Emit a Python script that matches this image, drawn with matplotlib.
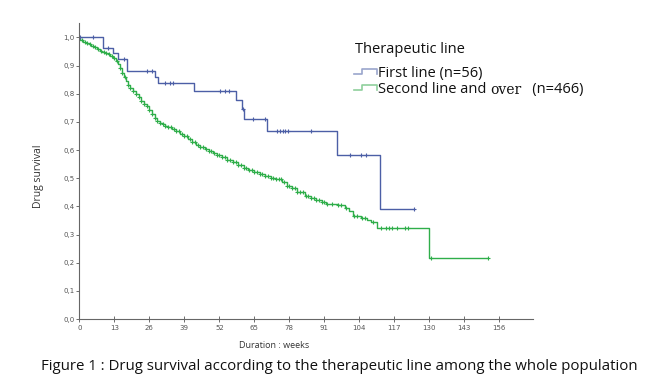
import numpy as np
import matplotlib
matplotlib.use("Agg")
import matplotlib.pyplot as plt
from matplotlib.lines import Line2D

# First line (n=56): step times (weeks) and survival after each step
first_t = [0, 8.7, 12.4, 14.5, 17.6, 28.1, 29.4, 42.6, 58.1, 60.3, 61.1, 69.6, 95.8, 111.7]
first_s = [1.0, 0.964, 0.946, 0.925, 0.882, 0.861, 0.838, 0.811, 0.779, 0.745, 0.710, 0.669, 0.583, 0.391]
first_end = 124.4
first_cens = [0.3, 5.2, 10.5, 16.7, 25.0, 26.9, 31.8, 33.7, 34.9, 52.3, 54.1, 55.4, 60.6,
              64.6, 69.0, 73.3, 74.5, 75.5, 76.5, 77.6, 86.1, 100.6, 104.6, 106.4, 124.4]

# Second line and over (n=466)
second_t = [0, 0.3, 1.5, 2.5, 3.5, 4.5, 5.5, 6.5, 7.5, 8.5, 9.5, 10.5, 11.5, 12.5, 13.5,
            14.2, 15.0, 15.8, 16.5, 17.3, 18.0, 19.0, 20.0, 21.0, 22.0, 23.0, 24.0, 25.0,
            26.0, 27.0, 28.0, 29.0, 30.0, 31.0, 32.0, 33.0, 34.5, 36.0, 37.5, 39.0, 40.5,
            42.0, 43.5, 45.0, 46.5, 48.0, 49.5, 51.0, 53.0, 55.0, 57.0, 59.0, 61.0, 62.8,
            65.0, 67.0, 69.0, 71.0, 73.0, 75.2, 77.0, 79.0, 81.0, 83.8, 86.0, 88.0, 90.0,
            91.5, 96.0, 98.5, 100.0, 101.5, 104.5, 107.0, 108.5, 110.5, 129.7]
second_s = [1.0, 0.990, 0.985, 0.980, 0.975, 0.970, 0.965, 0.958, 0.953, 0.950, 0.946,
            0.942, 0.935, 0.927, 0.915, 0.905, 0.890, 0.872, 0.858, 0.845, 0.832, 0.820,
            0.810, 0.798, 0.787, 0.776, 0.765, 0.755, 0.742, 0.728, 0.714, 0.703, 0.697,
            0.692, 0.687, 0.682, 0.676, 0.667, 0.658, 0.649, 0.638, 0.628, 0.619, 0.611,
            0.604, 0.597, 0.590, 0.583, 0.575, 0.566, 0.557, 0.548, 0.538, 0.530, 0.522,
            0.514, 0.508, 0.502, 0.496, 0.488, 0.474, 0.465, 0.452, 0.437, 0.430, 0.423,
            0.416, 0.410, 0.405, 0.393, 0.382, 0.365, 0.360, 0.350, 0.343, 0.322, 0.216]
second_end = 151.9
second_cens = [1, 2, 3, 4, 5, 6, 7, 8, 9, 10, 11, 12, 13, 14, 15, 16, 17, 18, 19, 20, 21,
               22, 23, 24, 25, 26, 27, 28, 29, 30, 31, 32, 33, 34, 35, 36, 37, 38, 39, 40,
               41, 42, 43, 44, 45, 46, 47, 48, 49, 50, 51, 52, 53, 54, 55, 56, 57, 58, 59,
               60, 61, 62, 63, 64, 65, 66, 67, 68, 69, 70, 71, 72, 73, 74, 75, 76, 77, 78,
               79, 80, 81, 82, 83, 84, 85, 86, 87, 88, 89, 90, 91, 92, 94, 96, 97, 99, 102,
               103, 105, 106, 109, 112, 114, 115, 116, 118, 121, 122, 130.5, 151.9]

x_ticks = [0, 13, 26, 39, 52, 65, 78, 91, 104, 117, 130, 143, 156]
y_ticks = [0.0, 0.1, 0.2, 0.3, 0.4, 0.5, 0.6, 0.7, 0.8, 0.9, 1.0]

BLUE = "#4c5fa6"
GREEN = "#2fae4a"

fig = plt.figure(figsize=(6.47, 3.83), dpi=100)
ax = fig.add_axes([0.1226, 0.167, 0.7013, 0.772])


def draw_km(t, s, end, cens, color):
    xs = list(t) + [end]
    ys = list(s) + [s[-1]]
    ax.step(xs, ys, where="post", color=color, linewidth=1.0)
    cs = [s[np.searchsorted(t, c, side="right") - 1] for c in cens]
    ax.plot(cens, cs, linestyle="none", marker="+", markersize=3.2,
            markeredgewidth=0.8, color=color)


draw_km(second_t, second_s, second_end, second_cens, GREEN)
draw_km(first_t, first_s, first_end, first_cens, BLUE)

ax.set_xlim(0, 168.5)
ax.set_ylim(0, 1.05)
ax.set_xticks(x_ticks)
ax.set_yticks(y_ticks)
ax.set_yticklabels([f"{v:.1f}".replace(".", ",") for v in y_ticks])
for sp in ["top", "right"]:
    ax.spines[sp].set_visible(False)
for sp in ["left", "bottom"]:
    ax.spines[sp].set_color("#666666")
    ax.spines[sp].set_linewidth(0.8)
ax.tick_params(axis="x", direction="inout", length=4, width=0.6, labelsize=5,
               colors="#555555", pad=2)
ax.tick_params(axis="y", direction="out", length=2.5, width=0.6, labelsize=5,
               colors="#555555", pad=1)

ax.set_xlabel("Duration : weeks", fontsize=6.5, family="Open Sans", color="#333333")
ax.xaxis.set_label_coords(0.429, -0.075)
ax.set_ylabel("Drug survival", fontsize=7.5, family="Open Sans", color="#333333")
ax.yaxis.set_label_coords(-0.078, 0.484)

# legend drawn by hand (SPSS style with step icons)
fig.text(0.548, 0.862, "Therapeutic line", fontsize=10.5, family="Open Sans",
         color="#111111", va="baseline")
t1 = fig.text(0.584, 0.800, "First line (n=56)", fontsize=10.5, family="Open Sans",
              color="#111111", va="baseline")
t2 = fig.text(0.584, 0.756, "Second line and ", fontsize=10.5, family="Open Sans",
              color="#111111", va="baseline")
t3 = ax.annotate("over", xy=(1, 0), xycoords=t2, fontsize=10, family="DejaVu Serif",
                 color="#111111", va="bottom", ha="left")
ax.annotate("   (n=466)", xy=(1, 0), xycoords=t3, fontsize=10.5, family="Open Sans",
            color="#111111", va="bottom", ha="left")
for yb, col in [(0.808, "#9aa5cc"), (0.764, "#8fcf9c")]:
    fig.add_artist(Line2D([0.547, 0.560, 0.560, 0.582, 0.582],
                          [yb, yb, yb + 0.013, yb + 0.013, yb],
                          transform=fig.transFigure, color=col, linewidth=1.2))

fig.text(0.5247, 0.035, "Figure 1 : Drug survival according to the therapeutic line among the whole population",
         fontsize=10.8, family="Open Sans", color="#111111", ha="center", va="baseline")

fig.savefig("out.png", dpi=100)
